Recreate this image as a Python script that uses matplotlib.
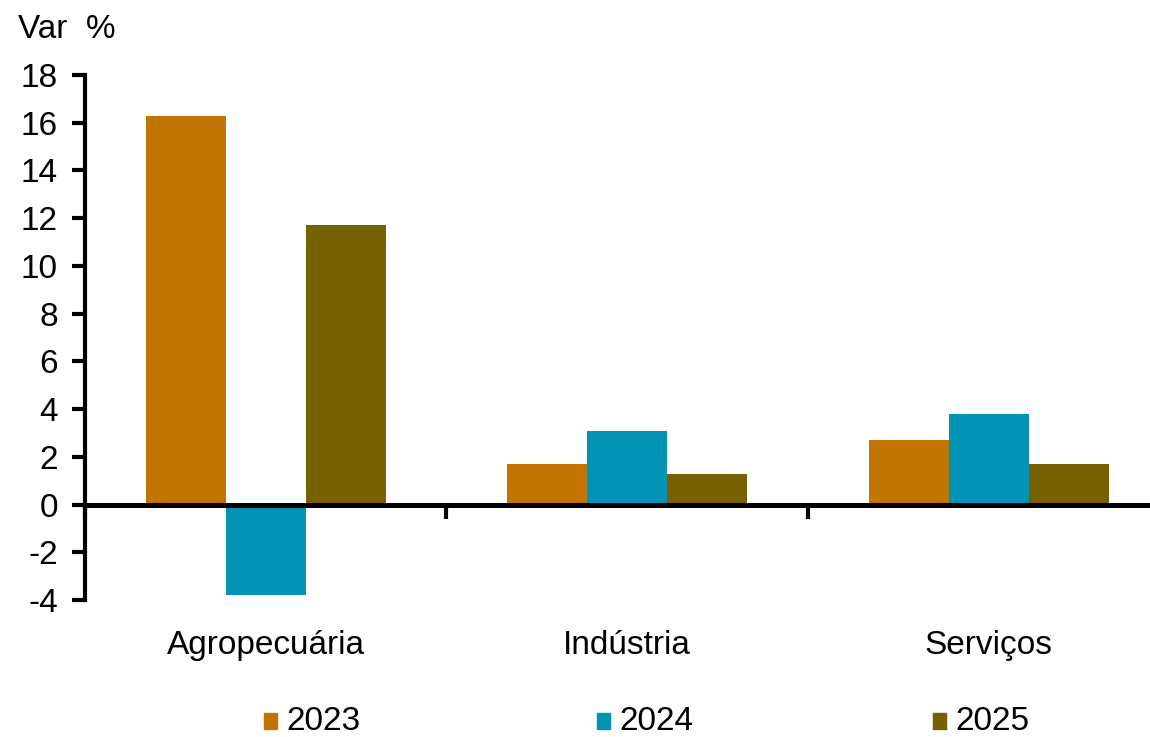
import matplotlib
matplotlib.use("Agg")
import matplotlib.pyplot as plt
from matplotlib.patches import Rectangle
import numpy as np

plt.rcParams['font.family'] = ['Liberation Sans', 'DejaVu Sans']

categories = ["Agropecuária", "Indústria", "Serviços"]
years = ["2023", "2024", "2025"]
values_2023 = [16.3, 1.7, 2.7]
values_2024 = [-3.8, 3.1, 3.8]
values_2025 = [11.7, 1.3, 1.7]
y_ticks = [-4, -2, 0, 2, 4, 6, 8, 10, 12, 14, 16, 18]
y_label = "Var  %"

colors = ["#C27400", "#0093B5", "#776000"]
series = [values_2023, values_2024, values_2025]
FS = 24

W, H = 1150, 737
fig = plt.figure(figsize=(W / 100, H / 100), dpi=100)
ax = fig.add_axes([85 / W, 137 / H, (1169.4 - 85) / W, 525 / H])

n = len(categories)
centers = np.arange(n) + 0.5
bw = 0.2214
for i, (vals, col) in enumerate(zip(series, colors)):
    ax.bar(centers + (i - 1) * bw, vals, width=bw, color=col,
           edgecolor='none', zorder=2)

ax.set_xlim(0, n)
ax.set_ylim(-4, 18)
ax.set_yticks(y_ticks)
ax.set_yticklabels([str(t) for t in y_ticks], fontsize=FS)
ax.set_xticks(np.arange(n + 1))
ax.set_xticklabels([])

for s in ("top", "right"):
    ax.spines[s].set_visible(False)
ax.spines["left"].set_linewidth(3)
ax.spines["bottom"].set_position(("data", 0))
ax.spines["bottom"].set_linewidth(3.6)
ax.spines["bottom"].set_zorder(3)

ax.tick_params(axis="y", direction="out", length=9.5, width=3, pad=10)
ax.tick_params(axis="x", direction="out", length=10, width=3)

# category names below the plot area
for c, name in zip(centers, categories):
    ax.text(c, -4 - 1.9, name, ha="center", va="center", fontsize=FS,
            transform=ax.transData)

fig.text(18 / W, 1 - 30 / H, y_label, ha="left", va="center", fontsize=FS)

# legend row
leg_x = [264, 597, 933]
for lx, col, yr in zip(leg_x, colors, years):
    fig.patches.append(Rectangle((lx / W, 1 - 729 / H), 13 / W, 16 / H,
                                 transform=fig.transFigure, color=col))
    fig.text((lx + 22) / W, 1 - 722 / H, yr, ha="left", va="center",
             fontsize=FS)

fig.savefig("out.png", dpi=100)
